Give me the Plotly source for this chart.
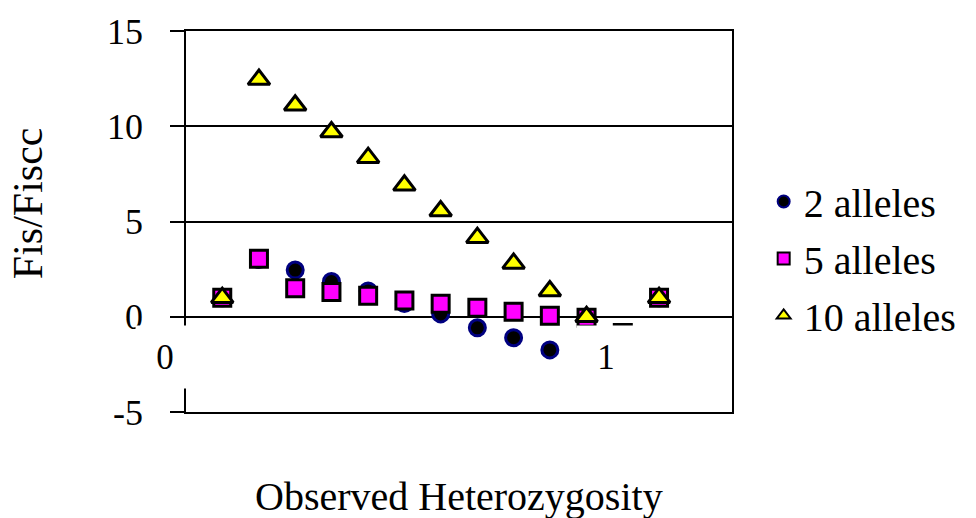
import plotly.graph_objects as go

# Observed heterozygosity (x) and Fis/Fiscc ratios for each number of alleles
het_obs = [0.083, 0.167, 0.25, 0.333, 0.417, 0.5, 0.583, 0.667, 0.75, 0.833, 0.917, 1.0, 1.083]
fis_2_alleles = [1.0, 3.0, 2.45, 1.85, 1.35, 0.7, 0.15, -0.58, -1.1, -1.74, -2.37, -3.1, 1.0]
fis_5_alleles = [1.0, 3.05, 1.5, 1.3, 1.1, 0.85, 0.68, 0.47, 0.26, 0.05, -0.05, -0.85, 1.0]
fis_10_alleles = [1.0, 12.45, 11.1, 9.7, 8.35, 6.9, 5.55, 4.15, 2.8, 1.35, 0.0, -1.4, 1.0]

series_names = ["2 alleles", "5 alleles", "10 alleles"]
y_ticks = [-5, 0, 5, 10, 15]
x_tick_labels = ["0", "1"]

FONT = "Liberation Serif, Times New Roman, serif"

fig = go.Figure()

fig.add_trace(go.Scatter(
    x=het_obs, y=fis_2_alleles, mode="markers", name=series_names[0],
    legendgroup="a",
    marker=dict(symbol="circle", size=16, color="black",
                line=dict(color="#000080", width=3)),
))
fig.add_trace(go.Scatter(
    x=het_obs, y=fis_5_alleles, mode="markers", name=series_names[1],
    legendgroup="b",
    marker=dict(symbol="square", size=17, color="#FF00FF",
                line=dict(color="black", width=3)),
))
fig.add_trace(go.Scatter(
    x=het_obs, y=fis_10_alleles, mode="markers", name=series_names[2],
    legendgroup="c",
    marker=dict(symbol="triangle-up", size=19, color="#FFFF00",
                line=dict(color="black", width=3)),
))

# x tick labels sit on the y=0 axis with opaque white boxes
for val, txt, shift in zip([0.0, 1.0], x_tick_labels, [-21, -17]):
    fig.add_annotation(
        x=val, y=0, xref="x", yref="y", text=txt, showarrow=False,
        xanchor="center", yanchor="top", xshift=shift, yshift=-8,
        width=56, height=60, bgcolor="white", borderpad=1,
        font=dict(family=FONT, size=35, color="black"),
    )

# Axis titles
fig.add_annotation(
    x=0.5, y=0, xref="paper", yref="paper", text="Observed Heterozygosity",
    showarrow=False, xanchor="center", yanchor="middle", yshift=-84,
    font=dict(family=FONT, size=40, color="black"),
)
fig.add_annotation(
    x=0, y=0.548, xref="paper", yref="paper", text="Fis/Fiscc",
    showarrow=False, xanchor="center", yanchor="middle", xshift=-158,
    textangle=-90, font=dict(family=FONT, size=42, color="black"),
)

fig.update_layout(
    width=976, height=518,
    margin=dict(l=186, r=244, t=31, b=106, pad=0),
    paper_bgcolor="white", plot_bgcolor="white",
    font=dict(family=FONT, color="black"),
    showlegend=True,
    legend=dict(
        x=1.058, y=0.403, xanchor="left", yanchor="middle",
        font=dict(family=FONT, size=40, color="black"),
        itemsizing="constant", traceorder="grouped", tracegroupgap=2,
        bgcolor="rgba(0,0,0,0)", borderwidth=0,
    ),
    xaxis=dict(
        range=[0, 1.25], showgrid=False, zeroline=False,
        showticklabels=False, ticks="",
        showline=True, linecolor="black", linewidth=1.5, mirror=True,
    ),
    yaxis=dict(
        range=[-5, 15], tickvals=y_ticks, ticktext=[str(v) for v in y_ticks],
        showgrid=True, gridcolor="black", gridwidth=1.5,
        zeroline=True, zerolinecolor="black", zerolinewidth=1.5,
        ticks="outside", ticklen=14, tickwidth=1.5, tickcolor="black",
        ticklabelstandoff=20,
        tickfont=dict(family=FONT, size=36, color="black"),
        showline=True, linecolor="black", linewidth=1.5, mirror=True,
    ),
)

fig.write_html("out.html")
